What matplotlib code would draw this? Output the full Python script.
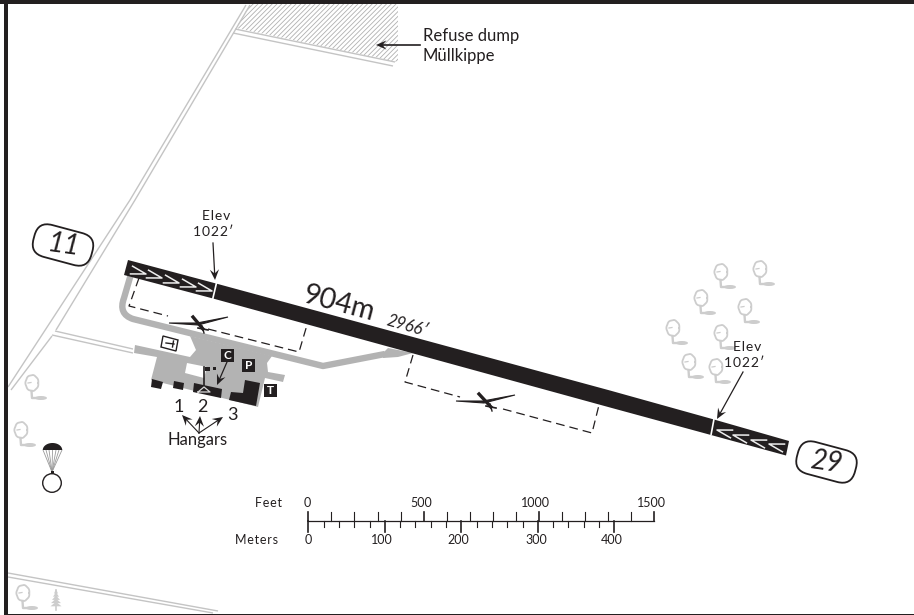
import matplotlib
matplotlib.use("Agg")
import matplotlib.pyplot as plt
import numpy as np
from matplotlib.patches import Polygon, Ellipse, Circle, FancyBboxPatch, PathPatch
from matplotlib.path import Path
from matplotlib.transforms import Affine2D

plt.rcParams['font.family'] = ['Lato', 'DejaVu Sans']
plt.rcParams['hatch.linewidth'] = 0.6
plt.rcParams['hatch.color'] = '#b0b0b0'

INK = '#231f20'
GREY = '#b3b3b3'
ROAD = '#c4c4c4'
TREE = '#cdcdcd'

# ---- map features, in map units ----
runway = [(128, 260), (216, 283.5), (610, 390.5), (714, 419.5), (789, 441),
          (786, 455.5), (711, 435), (610, 407.5), (213, 298.5), (124, 275)]
threshold_11 = [(216.5, 283), (212.7, 299)]
threshold_29 = [(714, 419), (711, 435)]
chevron_tips_11 = [(146, 274), (162, 278), (179, 283), (196, 287), (212, 291)]
chevron_tips_29 = [(717, 430), (733, 435), (751, 440), (769, 444)]

road_main_a = [(246, 5), (130, 200), (8, 387)]
road_main_b = [(250, 5), (135, 200), (56, 330)]
road_main_c = [(52, 336), (11, 390)]
road_dump_a = [(235, 29), (395, 62)]
road_dump_b = [(233, 33), (393, 66)]
road_field_a = [(55, 331), (133, 349)]
road_field_b = [(52, 335), (133, 353)]
road_south_a = [(8, 573), (218, 611)]
road_south_b = [(8, 577), (213, 613)]
dump_area = [(250, 4), (398, 4), (398, 62), (236, 28)]

apron = [(135, 345), (190, 357), (196, 350), (190, 336), (272, 356), (267, 363),
         (268, 372), (285, 375), (283, 382), (265, 378), (258, 407), (151, 380),
         (157, 357), (134, 353)]
apron_hole = [(187, 363), (207, 367), (204, 378), (185, 373)]
taxi_flare = [(383, 353), (388, 348), (413, 353), (398, 357), (383, 358)]
hangars = [
    [(152, 379), (163, 382), (161, 389), (151, 387)],
    [(174, 381), (184, 383), (183, 390), (173, 388)],
    [(194, 383), (222, 389), (221, 398), (193, 392)],
    [(231, 392), (243, 393), (245, 380), (260, 383), (256, 406), (229, 400)],
]
badges = [('C', 227, 355.5), ('P', 248.5, 365.5), ('T', 270.5, 390.5)]

dash_left = [(139, 278), (129, 306), (168, 316)]
dash_left2 = [(208, 329), (299, 352), (307, 325)]
dash_right = [(413, 355), (405, 382), (460, 397)]
dash_right2 = [(503, 409), (592, 433), (599, 405)]

trees = [(721, 272), (760, 269), (701, 298), (745, 307), (673, 328), (721, 333),
         (689, 362), (716, 367), (32, 383), (21, 430), (23, 593)]
pine = (56, 600)

feet_ticks = list(range(0, 1600, 100))
meter_ticks = list(range(0, 420, 20))
feet_labels = ['0', '500', '1000', '1500']
feet_label_x = [307, 421, 535, 651]
meter_labels = ['0', '100', '200', '300', '400']
meter_label_x = [308, 382, 458, 536, 612]

# ---- figure ----
fig = plt.figure(figsize=(9.14, 6.15), dpi=100)
ax = fig.add_axes([0, 0, 1, 1])
ax.set_xlim(0, 914)
ax.set_ylim(615, 0)
ax.axis('off')

# frame
ax.add_patch(Polygon([(0, 0), (914, 0), (914, 3.5), (0, 3.5)], color=INK, lw=0, zorder=9))
ax.add_patch(Polygon([(4, 0), (8, 0), (8, 615), (4, 615)], color=INK, lw=0, zorder=9))
ax.add_patch(Polygon([(4, 613.5), (914, 613.5), (914, 615), (4, 615)], color=INK, lw=0, zorder=9))


def xy(points):
    return zip(*points)


# dump hatch + roads
ax.add_patch(Polygon(dump_area, facecolor='white', edgecolor='#b0b0b0', hatch='///////', lw=0, zorder=1))
for rd in [road_main_a, road_main_b, road_main_c, road_dump_a, road_dump_b,
           road_field_a, road_field_b, road_south_a, road_south_b]:
    x, y = xy(rd)
    ax.plot(x, y, color=ROAD, lw=1.0, zorder=2, solid_capstyle='butt')

# taxiway and apron
taxi = Path([(131, 274), (124, 298), (118, 314), (133, 319), (323, 366), (385, 354)],
            [Path.MOVETO, Path.LINETO, Path.CURVE3, Path.CURVE3, Path.LINETO, Path.LINETO])
ax.add_patch(PathPatch(taxi, fill=False, edgecolor=GREY, lw=4.6, zorder=3, joinstyle='round'))
ax.add_patch(Polygon(apron, facecolor=GREY, lw=0, zorder=3))
ax.add_patch(Polygon(taxi_flare, facecolor=GREY, lw=0, zorder=3))
ax.add_patch(Polygon(apron_hole, facecolor='white', lw=0, zorder=4))
for h in hangars:
    ax.add_patch(Polygon(h, facecolor=INK, lw=0, zorder=5))

# tower / windsock
ax.plot([204, 204], [367, 388], color=INK, lw=1.2, zorder=6)
ax.add_patch(Polygon([(205, 367), (210, 367), (210, 371), (205, 371)], color=INK, lw=0, zorder=6))
ax.add_patch(Polygon([(213, 367), (215.5, 367), (215.5, 370), (213, 370)], color=INK, lw=0, zorder=6))
ax.plot([198, 204, 210, 198], [392, 387, 392, 392], color='#d8d8d8', lw=0.9, zorder=6)

# badges
for letter, bx, by in badges:
    ax.add_patch(Polygon([(bx - 6.5, by - 6.5), (bx + 6.5, by - 6.5), (bx + 6.5, by + 6.5), (bx - 6.5, by + 6.5)],
                         color=INK, lw=0, zorder=6))
    ax.text(bx, by + 0.3, letter, color='white', fontsize=8.5, fontweight='bold', ha='center', va='center', zorder=7)

# terminal symbol
ax.add_patch(Polygon([(163, 336), (178, 340), (176, 351), (161, 347)], facecolor='white',
                     edgecolor=INK, lw=1.0, zorder=6))
ax.plot([166, 174], [343, 344], color=INK, lw=1.0, zorder=7)
ax.plot([173.5, 172.5], [341, 347], color=INK, lw=1.0, zorder=7)

# runway
ax.add_patch(Polygon(runway, facecolor=INK, lw=0, zorder=6))
for seg in (threshold_11, threshold_29):
    x, y = xy(seg)
    ax.plot(x, y, color='white', lw=1.2, zorder=7, solid_capstyle='butt')
u = np.array([661.0, 180.0]) / np.hypot(661, 180)
n = np.array([-u[1], u[0]])
for tips, sign in ((chevron_tips_11, -1), (chevron_tips_29, 1)):
    for t in tips:
        t = np.array(t, float)
        p1 = t + sign * 15 * u + 4 * n
        p2 = t + sign * 15 * u - 4 * n
        ax.plot([p1[0], t[0], p2[0]], [p1[1], t[1], p2[1]], color='#eeeeee', lw=1.1, zorder=7)

# glide circuits
for d in (dash_left, dash_left2, dash_right, dash_right2):
    x, y = xy(d)
    ax.plot(x, y, color=INK, lw=0.9, dashes=(7, 4), zorder=4)


def glider(wl, wm, wr, nose, tail):
    ax.add_patch(Polygon([wl, wm, wr, (wm[0] + 1, wm[1] + 2)], facecolor=INK, edgecolor=INK, lw=0.8, zorder=6))
    ax.plot([nose[0], tail[0]], [nose[1], tail[1]], color=INK, lw=2.4, zorder=6)
    t = np.array(tail)
    ax.plot([t[0] - 5, t[0] + 5], [t[1] - 1, t[1] + 1], color=INK, lw=1.2, zorder=6)
    ax.plot([t[0] - 1, t[0] + 1], [t[1] - 3, t[1] + 4], color=INK, lw=1.0, zorder=6)


glider((169, 323), (197, 323), (228, 317), (193, 317), (203, 329))
glider((456, 401), (483, 401), (515, 395), (479, 394), (491, 407))


def tree(cx, cy):
    th = np.linspace(0, 2 * np.pi, 160)
    r = 1 + 0.07 * np.abs(np.sin(3.5 * th))
    px = cx + 6.2 * r * np.cos(th)
    py = cy + 7.6 * r * np.sin(th)
    ax.plot(px, py, color=TREE, lw=1.3, zorder=2)
    ax.plot([cx - 0.5, cx, cx + 8], [cy + 8, cy + 15, cy + 15], color=TREE, lw=1.7, zorder=2)
    ax.add_patch(Ellipse((cx + 9, cy + 15), 12, 4, color=TREE, lw=0, zorder=2))
    ax.plot([cx - 4, cx - 1], [cy, cy - 0.5], color=TREE, lw=0.9, zorder=2)


for tx, ty in trees:
    tree(tx, ty)

# pine
px, py = pine
ax.plot([px, px], [py - 10, py + 10], color=TREE, lw=1.2, zorder=2)
for k, w in zip(range(0, 5), (2, 3, 4, 5, 5.5)):
    yy = py - 9 + 3.2 * k
    ax.add_patch(Polygon([(px, yy - 2), (px + w, yy + 2.5), (px - w, yy + 2.5)], color=TREE, lw=0, zorder=2))

# parachute
arc = np.linspace(np.pi, 2 * np.pi, 40)
ax.add_patch(Polygon(np.c_[52.5 + 9.7 * np.cos(arc), 450 + 7 * np.sin(arc)], color=INK, lw=0, zorder=5))
for lx in (43, 46, 49, 52.5, 56, 59, 62):
    ax.plot([lx, 52], [450, 472], color='#9a9a9a', lw=0.6, zorder=4)
ax.add_patch(Polygon([(50.5, 471), (53.5, 471), (53.5, 474.5), (50.5, 474.5)], color=INK, lw=0, zorder=5))
ax.add_patch(Circle((52, 483), 9.3, facecolor='white', edgecolor=INK, lw=1.0, zorder=5))


# pills
def pill(cx, cy, label):
    tr = Affine2D().rotate_deg(15).translate(cx, cy) + ax.transData
    ax.add_patch(FancyBboxPatch((-15.5, -2), 31, 4, boxstyle='round,pad=14.5,rounding_size=14.5',
                                facecolor='white', edgecolor=INK, lw=1.3, transform=tr, zorder=6))
    ax.text(cx, cy, label, fontsize=20, style='italic', color=INK, rotation=-8,
            ha='center', va='center', rotation_mode='anchor', zorder=7)


pill(63, 245, '11')
pill(826.5, 462, '29')


# arrows with a barbed head
def arrow(start, end, lw=0.9, head=10.5, half=4.6):
    s, e = np.array(start, float), np.array(end, float)
    d = (e - s) / np.hypot(*(e - s))
    p = np.array([-d[1], d[0]])
    ax.plot([s[0], e[0] - d[0] * 3], [s[1], e[1] - d[1] * 3], color=INK, lw=lw, zorder=8)
    ax.add_patch(Polygon([e, e - d * head + p * half, e - d * head * 0.62, e - d * head - p * half],
                         facecolor=INK, lw=0, zorder=8))


arrow((213, 243), (215, 280))
arrow((743, 372), (717, 419))
arrow((420, 45), (376, 45), lw=1.2)
arrow((227, 362), (217, 385))
hangar_root = (199, 433)
for tip in [(182, 415), (200, 416), (223, 417)]:
    arrow(hangar_root, tip, lw=0.8)

# text
H = '\u200a'
elev = H.join('Elev')
elev_h = H.join('1022′')
txt = dict(color=INK, ha='center', va='center', zorder=8)
ax.text(216, 216, elev, fontsize=10, **txt)
ax.text(213, 232, elev_h, fontsize=10, **txt)
ax.text(747, 347, elev, fontsize=10, **txt)
ax.text(744, 363, elev_h, fontsize=10, **txt)
ax.text(339, 304, '904m', fontsize=20.5, rotation=-15, rotation_mode='anchor', **txt)
ax.text(407, 326, '2966′', fontsize=12, style='italic', rotation=-16, rotation_mode='anchor', **txt)
ax.text(198, 440.5, 'Hangars', fontsize=12, **txt)
ax.text(178.5, 407, '1', fontsize=13, **txt)
ax.text(202, 407, '2', fontsize=13, **txt)
ax.text(232, 415, '3', fontsize=13, **txt)
ax.text(423, 36, 'Refuse dump', fontsize=12, color=INK, ha='left', va='center')
ax.text(423, 56, 'Müllkippe', fontsize=12, color=INK, ha='left', va='center')

# scale bar
feet_x0, feet_px = 308.3, 346 / 1500
m_x0, m_px = 308.3, 306 / 400
base_y = 521
ax.plot([feet_x0, feet_x0 + 1500 * feet_px], [base_y, base_y], color=INK, lw=0.9)
for f in feet_ticks:
    major = f % 500 == 0
    ax.plot([feet_x0 + f * feet_px] * 2, [base_y - 9, base_y], color=INK, lw=1.2 if major else 0.8)
for m in meter_ticks:
    major = m % 100 == 0
    ax.plot([m_x0 + m * m_px] * 2, [base_y, base_y + (11 if major else 6)], color=INK, lw=1.2 if major else 0.8)
for lab, x in zip(feet_labels, feet_label_x):
    ax.text(x, 503, lab, fontsize=9, **txt)
for lab, x in zip(meter_labels, meter_label_x):
    ax.text(x, 540, lab, fontsize=9, **txt)
ax.text(282, 503, H.join('Feet'), fontsize=9, color=INK, ha='right', va='center')
ax.text(278, 540, H.join('Meters'), fontsize=9, color=INK, ha='right', va='center')

fig.savefig('out.png', dpi=100)
